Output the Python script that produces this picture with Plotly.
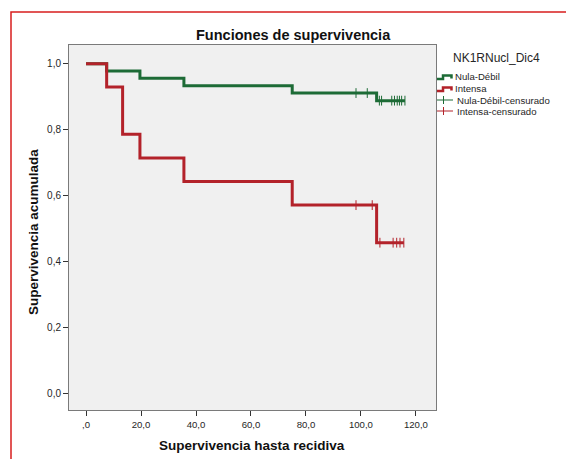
import numpy as np
import plotly.graph_objects as go

# ---- data ----
green_times = [0, 7.5, 19.6, 35.6, 75.0, 105.7]
green_surv = [1.0, 0.978, 0.956, 0.933, 0.911, 0.888]
green_end = 116.0
green_cens = [98.2, 102.3, 106.7, 107.5, 111.2, 112.2, 113.2, 114.0, 114.8, 116.0]

red_times = [0, 7.5, 13.3, 19.6, 35.6, 75.0, 105.7]
red_surv = [1.0, 0.929, 0.786, 0.714, 0.643, 0.571, 0.457]
red_end = 115.6
red_cens = [98.2, 104.1, 106.9, 111.7, 113.0, 114.2, 115.6]

x_tickvals = [0, 20, 40, 60, 80, 100, 120]
x_ticktext = [",0", "20,0", "40,0", "60,0", "80,0", "100,0", "120,0"]
y_tickvals = [0, 0.2, 0.4, 0.6, 0.8, 1.0]
y_ticktext = ["0,0", "0,2", "0,4", "0,6", "0,8", "1,0"]

GREEN = "#1d6b36"
RED = "#b3222a"
FONT = "Liberation Sans, Arial, sans-serif"
TXT = "#262626"

W, H = 566, 459
ML, MR, MT, MB = 69, 130, 45, 49
PW = W - ML - MR
PH = H - MT - MB


def px(x):
    return (x - ML) / PW


def py(y):
    return (H - MB - y) / PH


def step_xy(times, surv, end):
    xs = list(times) + [end]
    ys = list(surv) + [surv[-1]]
    return xs, ys


def surv_at(times, surv, t):
    i = np.searchsorted(np.array(times), t, side="right") - 1
    return surv[i]


fig = go.Figure()

gx, gy = step_xy(green_times, green_surv, green_end)
rx, ry = step_xy(red_times, red_surv, red_end)

fig.add_trace(go.Scatter(x=gx, y=gy, mode="lines", line=dict(color=GREEN, width=3, shape="hv"),
                         name="Nula-Débil", showlegend=False, hoverinfo="skip"))
fig.add_trace(go.Scatter(x=rx, y=ry, mode="lines", line=dict(color=RED, width=3, shape="hv"),
                         name="Intensa", showlegend=False, hoverinfo="skip"))
fig.add_trace(go.Scatter(x=green_cens, y=[surv_at(green_times, green_surv, t) for t in green_cens],
                         mode="markers", marker=dict(symbol="line-ns", size=7,
                                                     line=dict(color=GREEN, width=1)),
                         name="Nula-Débil-censurado", showlegend=False, hoverinfo="skip"))
fig.add_trace(go.Scatter(x=red_cens, y=[surv_at(red_times, red_surv, t) for t in red_cens],
                         mode="markers", marker=dict(symbol="line-ns", size=7,
                                                     line=dict(color=RED, width=1)),
                         name="Intensa-censurado", showlegend=False, hoverinfo="skip"))

shapes = []
# red outer frame (left and top edges)
shapes.append(dict(type="rect", xref="paper", yref="paper",
                   x0=px(11), x1=px(W + 20), y0=py(12), y1=py(H + 20),
                   line=dict(color="#d81e1e", width=1.5), fillcolor="rgba(0,0,0,0)", layer="above"))

# legend icons
def step_icon(yc, color):
    path = "M {:.4f},{:.4f} L {:.4f},{:.4f} L {:.4f},{:.4f} L {:.4f},{:.4f} L {:.4f},{:.4f}".format(
        px(437), py(yc + 2), px(443), py(yc + 2), px(443), py(yc - 1.5),
        px(451.5), py(yc - 1.5), px(451.5), py(yc + 1.5))
    return dict(type="path", xref="paper", yref="paper", path=path,
                line=dict(color=color, width=2.5))

shapes.append(step_icon(77, GREEN))
shapes.append(step_icon(89, RED))
for yc, col in [(100, GREEN), (111, RED)]:
    shapes.append(dict(type="line", xref="paper", yref="paper",
                       x0=px(437), x1=px(453), y0=py(yc), y1=py(yc),
                       line=dict(color=col, width=1)))
    shapes.append(dict(type="line", xref="paper", yref="paper",
                       x0=px(443.5), x1=px(443.5), y0=py(yc - 4), y1=py(yc + 4),
                       line=dict(color=col, width=1)))

annotations = []
annotations.append(dict(text="<b>Funciones de supervivencia</b>", xref="paper", yref="paper",
                        x=px(293), y=py(35), xanchor="center", yanchor="middle", showarrow=False,
                        font=dict(family=FONT, size=14.5, color="#111")))
annotations.append(dict(text="<b>Supervivencia hasta recidiva</b>", xref="paper", yref="paper",
                        x=px(251.5), y=py(445), xanchor="center", yanchor="middle", showarrow=False,
                        font=dict(family=FONT, size=13.5, color="#111")))
annotations.append(dict(text="<b>Supervivencia acumulada</b>", xref="paper", yref="paper",
                        x=px(33), y=py(232), xanchor="center", yanchor="middle", showarrow=False,
                        textangle=-90, font=dict(family=FONT, size=13.5, color="#111")))
annotations.append(dict(text="NK1RNucl_Dic4", xref="paper", yref="paper",
                        x=px(450.5), y=py(58), xanchor="left", yanchor="middle", showarrow=False,
                        font=dict(family=FONT, size=12, color=TXT)))
for label, yc, x0 in [("Nula-Débil", 77, 453), ("Intensa", 89, 453),
                      ("Nula-Débil-censurado", 100, 455), ("Intensa-censurado", 111, 455)]:
    annotations.append(dict(text=label, xref="paper", yref="paper",
                            x=px(x0), y=py(yc), xanchor="left", yanchor="middle", showarrow=False,
                            font=dict(family=FONT, size=9.6, color=TXT)))

fig.update_layout(
    width=W, height=H,
    margin=dict(l=ML, r=MR, t=MT, b=MB, pad=0),
    paper_bgcolor="white",
    plot_bgcolor="#f0f0f0",
    showlegend=False,
    shapes=shapes,
    annotations=annotations,
    font=dict(family=FONT, size=10, color=TXT),
)
fig.update_xaxes(range=[-6.2, 127.3], tickvals=x_tickvals, ticktext=x_ticktext,
                 ticks="outside", ticklen=5, tickwidth=1, tickcolor="#333",
                 showgrid=False, zeroline=False, showline=True, linecolor="#7a7a7a",
                 linewidth=1, mirror=True, tickfont=dict(family=FONT, size=9.6, color=TXT))
fig.update_yaxes(range=[-0.0506, 1.0568], tickvals=y_tickvals, ticktext=y_ticktext,
                 ticks="outside", ticklen=5, tickwidth=1, tickcolor="#333",
                 showgrid=False, zeroline=False, showline=True, linecolor="#7a7a7a",
                 linewidth=1, mirror=True, tickfont=dict(family=FONT, size=10, color=TXT))

fig.write_html("out.html", config={"displayModeBar": False},
               post_script="document.body.style.margin='0';document.body.style.overflow='hidden';")
